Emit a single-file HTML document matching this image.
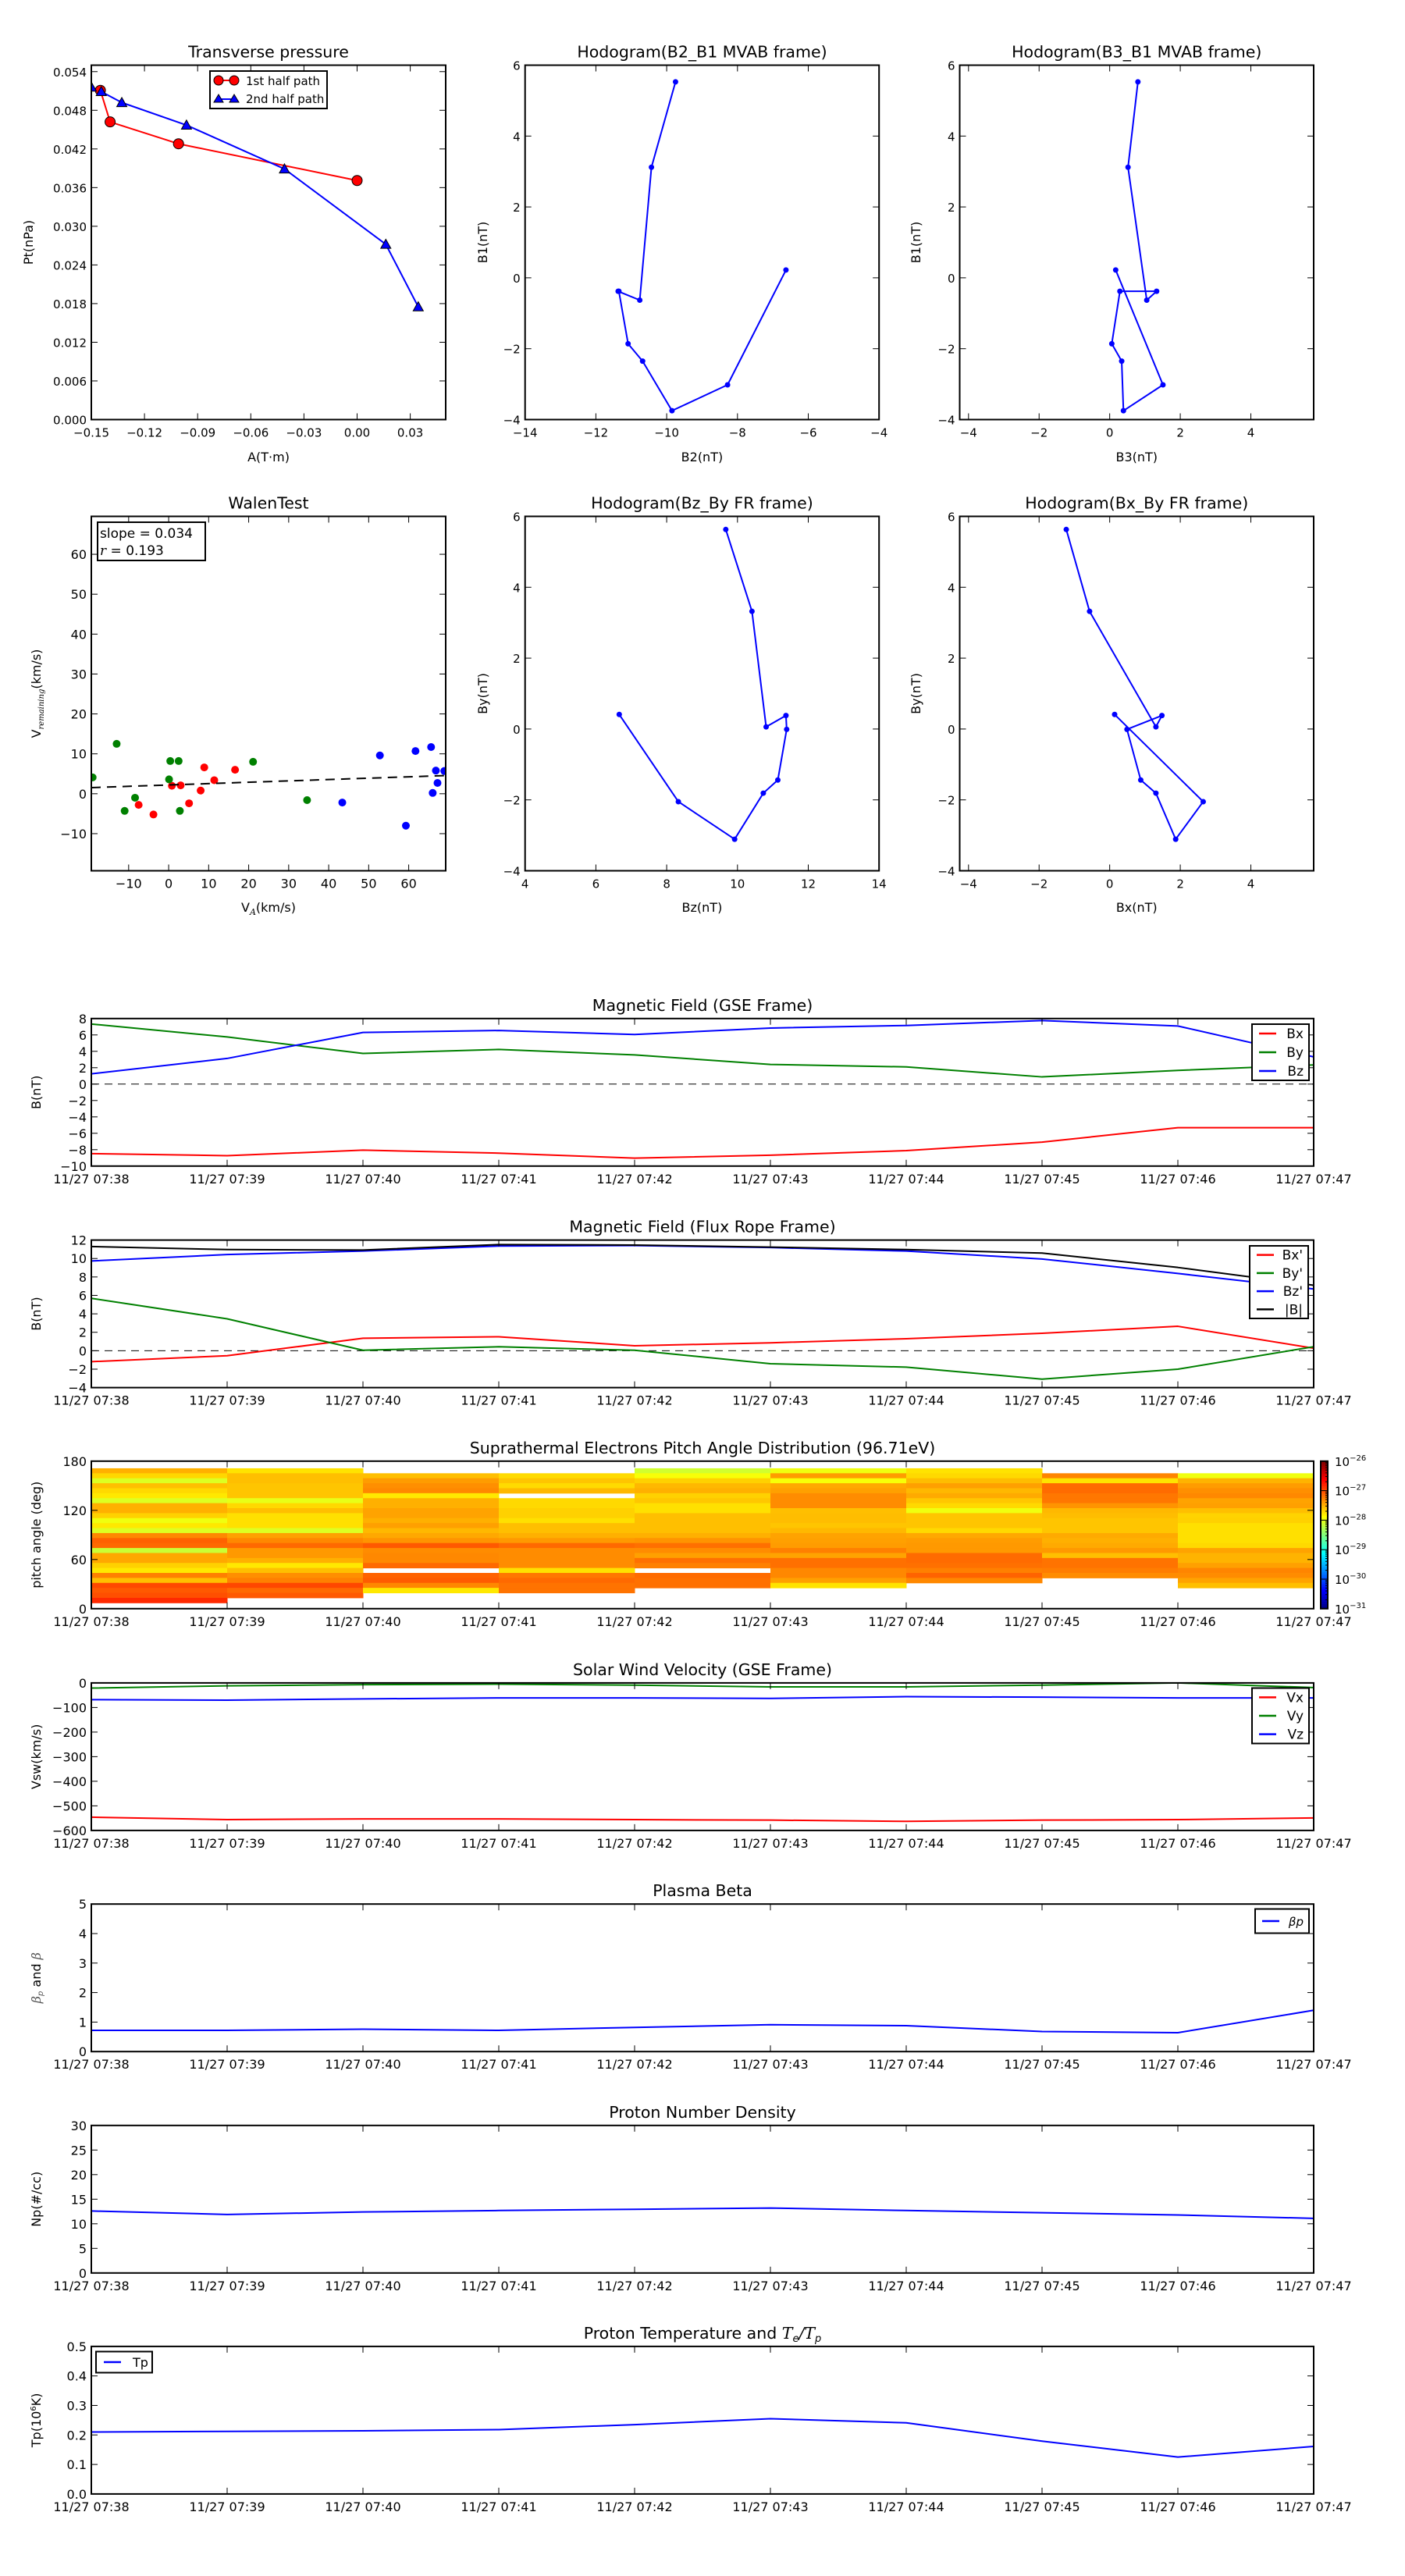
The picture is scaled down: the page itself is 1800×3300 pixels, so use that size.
<!DOCTYPE html>
<html><head><meta charset="utf-8"><title>Flux rope analysis</title>
<style>
html,body{margin:0;padding:0;background:#fff;}
svg{display:block;font-family:"DejaVu Sans","Liberation Sans",sans-serif;}
text{fill:#000;}
</style></head>
<body>
<svg id="chart" width="1800" height="3300" viewBox="0 0 1800 3300" xmlns="http://www.w3.org/2000/svg"></svg>
<script>
// ---------- data ----------
const ptA1 = [-0.1449, -0.1394, -0.1008, 0.0];
const ptPt1 = [0.0511, 0.0462, 0.0428, 0.0371];
const ptA2 = [-0.150, -0.1444, -0.1328, -0.0963, -0.0410, 0.0162, 0.0345];
const ptPt2 = [0.0516, 0.0509, 0.0492, 0.0457, 0.0389, 0.0272, 0.0175];

const mvB1 = [5.53, 3.12, -0.63, -0.38, -0.38, -1.86, -2.35, -3.75, -3.02, 0.22];
const mvB2 = [-9.75, -10.43, -10.76, -11.37, -11.35, -11.09, -10.68, -9.85, -8.28, -6.63];
const mvB3 = [0.80, 0.52, 1.05, 1.33, 0.29, 0.06, 0.34, 0.39, 1.51, 0.17];

const frBy = [5.63, 3.32, 0.06, 0.38, -0.01, -1.44, -1.81, -3.11, -2.05, 0.41];
const frBz = [9.67, 10.41, 10.81, 11.37, 11.39, 11.14, 10.73, 9.92, 8.33, 6.66];
const frBx = [-1.23, -0.57, 1.31, 1.48, 0.49, 0.88, 1.31, 1.87, 2.65, 0.14];

const walenRedX = [8.9, 16.6, 11.4, 0.8, 3.0, 8.0, 5.1, -7.5, -3.8];
const walenRedY = [6.6, 6.0, 3.4, 2.0, 2.1, 0.8, -2.4, -2.8, -5.2];
const walenGreenX = [-13.0, 0.4, 2.5, 21.1, -19.0, 0.1, -8.4, -11.0, 2.8, 34.6];
const walenGreenY = [12.5, 8.2, 8.2, 8.0, 4.1, 3.6, -1.0, -4.3, -4.3, -1.6];
const walenBlueX = [52.8, 61.7, 65.6, 66.8, 68.9, 67.2, 66.0, 43.4, 59.3];
const walenBlueY = [9.6, 10.7, 11.7, 5.8, 5.7, 2.7, 0.2, -2.2, -8.0];
const walenSlope = 0.034;
const walenIntercept = 2.2;

const timeLabels = ['11/27 07:38','11/27 07:39','11/27 07:40','11/27 07:41','11/27 07:42','11/27 07:43','11/27 07:44','11/27 07:45','11/27 07:46','11/27 07:47'];

const gseBx = [-8.48, -8.73, -8.06, -8.42, -9.03, -8.67, -8.12, -7.08, -5.32, -5.32];
const gseBy = [7.33, 5.75, 3.74, 4.23, 3.56, 2.40, 2.10, 0.88, 1.67, 2.34];
const gseBz = [1.25, 3.13, 6.30, 6.54, 6.05, 6.84, 7.15, 7.76, 7.09, 3.32];

const ropeBx = [-1.19, -0.54, 1.35, 1.51, 0.54, 0.86, 1.30, 1.89, 2.65, 0.27];
const ropeBy = [5.68, 3.46, 0.05, 0.43, 0.05, -1.41, -1.78, -3.08, -2.00, 0.43];
const ropeBz = [9.73, 10.43, 10.81, 11.35, 11.41, 11.19, 10.81, 9.95, 8.38, 6.7];
const ropeBt = [11.30, 10.97, 10.92, 11.51, 11.46, 11.24, 10.97, 10.59, 9.03, 7.1];

// log10 flux per time column, rows from high pitch angle (top) to low
const padCol1 = [-27.49,-27.68,-28.04,-27.56,-27.69,-27.76,-28.04,-27.49,-27.49,-27.65,-27.95,-27.76,-28.04,-27.29,-27.1,-27.14,-28.13,-27.45,-27.45,-27.65,-27.76,-27.25,-27.56,-26.98,-27.06,-27.01,-26.83];
const padCol2 = [-27.74,-27.56,-27.56,-27.59,-27.59,-27.59,-27.99,-27.69,-27.56,-27.725,-27.725,-27.725,-28.04,-27.41,-27.29,-27.14,-27.375,-27.375,-27.49,-27.76,-27.56,-27.325,-27.25,-26.975,-27.14,-27.06,null];
const padCol3 = [null,-27.56,-27.39,-27.325,-27.29,-27.76,-27.49,-27.49,-27.425,-27.425,-27.49,-27.41,-27.525,-27.45,-27.35,-27.06,-27.31,-27.29,-27.29,-27.14,null,-27.11,-27.075,-27.29,-27.76,null,null];
const padCol4 = [null,-27.7,-27.59,-27.7,-27.525,null,-27.69,-27.69,-27.65,-27.65,-27.725,-27.56,-27.56,-27.49,-27.375,-27.14,-27.31,-27.31,-27.31,-27.31,-27.725,-27.21,-27.14,-27.19,-27.19,null,null];
const padCol5 = [-28.1,-27.91,-27.65,-27.525,-27.49,-27.65,-27.6,-27.725,-27.725,-27.56,-27.56,-27.56,-27.56,-27.49,-27.35,-27.175,-27.31,-27.41,-27.175,-27.25,null,-27.15,-27.175,-27.175,null,null,null];
const padCol6 = [-27.95,-27.39,-27.91,-27.45,-27.41,-27.31,-27.31,-27.31,-27.56,-27.55,-27.55,-27.59,-27.525,-27.425,-27.41,-27.39,-27.25,-27.425,-27.175,-27.175,-27.29,-27.29,-27.41,-27.74,null,null,null];
const padCol7 = [-27.74,-27.69,-27.55,-27.41,-27.525,-27.46,-27.6,-27.69,-27.95,-27.59,-27.59,-27.59,-27.69,-27.45,-27.39,-27.375,-27.375,-27.15,-27.15,-27.175,-27.25,-27.11,-27.29,null,null,null,null];
const padCol8 = [null,-27.275,-27.74,-27.15,-27.15,-27.21,-27.21,-27.35,-27.525,-27.55,-27.59,-27.59,-27.59,-27.46,-27.49,-27.46,-27.375,-27.56,-27.19,-27.19,-27.24,-27.31,null,null,null,null,null];
const padCol9 = [null,-27.95,-27.5,-27.39,-27.325,-27.29,-27.425,-27.41,-27.56,-27.66,-27.65,-27.725,-27.725,-27.725,-27.725,-27.69,-27.425,-27.5,-27.5,-27.41,-27.275,-27.31,-27.425,-27.56,null,null,null];
const padColumns = [padCol1,padCol2,padCol3,padCol4,padCol5,padCol6,padCol7,padCol8,padCol9];
const padBinTop = 171.3;     // deg
const padBinWidth = 6.08;    // deg
const padLogMin = -31, padLogMax = -26;

const velVx = [-546, -556, -553, -553, -556, -558, -563, -558, -556, -549];
const velVy = [-21, -12, -7, -5, -9, -16, -16, -9, 0, -19];
const velVz = [-68, -70, -65, -61, -61, -63, -56, -58, -61, -61];

const betaP = [0.72, 0.72, 0.76, 0.72, 0.82, 0.91, 0.88, 0.68, 0.64, 1.40];
const densNp = [12.6, 11.9, 12.4, 12.7, 12.95, 13.2, 12.7, 12.25, 11.8, 11.1];
const tempTp = [0.210, 0.212, 0.214, 0.218, 0.235, 0.255, 0.241, 0.179, 0.125, 0.161];

// ---------- helpers ----------
const NS = 'http://www.w3.org/2000/svg';
const svg = document.getElementById('chart');
function el(tag, parent, a){ const e=document.createElementNS(NS,tag); for(const k in a) e.setAttribute(k,a[k]); parent.appendChild(e); return e; }
function txt(parent, x, y, s, size, anchor, extra){ const t=el('text',parent,Object.assign({x:x,y:y,'font-size':size,'text-anchor':anchor||'middle'},extra||{})); t.textContent=s; return t; }

function makeAxes(name, x0, y0, w, h, xr, yr){
  const g = el('g', svg, {});
  
  
  const ax = {g, x0, y0, w, h, xr, yr,
    sx: v => x0 + (v - xr[0]) / (xr[1] - xr[0]) * w,
    sy: v => y0 + h - (v - yr[0]) / (yr[1] - yr[0]) * h};
  const clipId = 'clip-' + name;
  const cp = el('clipPath', g, {id: clipId});
  el('rect', cp, {x:x0, y:y0, width:w, height:h});
  ax.plot = el('g', g, {'clip-path':'url(#'+clipId+')'});
  
  
  return ax;
}
function frame(ax){
  const r = el('rect', ax.g, {x:ax.x0, y:ax.y0, width:ax.w, height:ax.h, fill:'none', stroke:'#000', 'stroke-width':2});
  
  
}
function yTicks(ax, vals, labels, size){
  const g = el('g', ax.g, {});
  
  
  vals.forEach((v,i)=>{
    const y = ax.sy(v);
    el('line', g, {x1:ax.x0, x2:ax.x0+8, y1:y, y2:y, stroke:'#000', 'stroke-width':1});
    el('line', g, {x1:ax.x0+ax.w-8, x2:ax.x0+ax.w, y1:y, y2:y, stroke:'#000', 'stroke-width':1});
    const t = txt(g, ax.x0-6, y+6, labels[i], size||16, 'end');
    
    
  });
}
function xTicks(ax, vals, labels, size, dy){
  const g = el('g', ax.g, {});
  
  
  vals.forEach((v,i)=>{
    const x = ax.sx(v);
    el('line', g, {x1:x, x2:x, y1:ax.y0+ax.h, y2:ax.y0+ax.h-8, stroke:'#000', 'stroke-width':1});
    el('line', g, {x1:x, x2:x, y1:ax.y0, y2:ax.y0+8, stroke:'#000', 'stroke-width':1});
    const t = txt(g, x, ax.y0+ax.h+(dy||22), labels[i], size||16, 'middle');
    
    
  });
}
function title(ax, s){
  const t = txt(ax.g, ax.x0+ax.w/2, ax.y0-10, s, 20.5, 'middle');
  
  
  return t;
}
function yLabel(ax, s, x){
  const cx = x, cy = ax.y0 + ax.h/2;
  const t = txt(ax.g, cx, cy, s, 16, 'middle', {transform:'rotate(-90 '+cx+' '+cy+')'});
  
  
  return t;
}
function xLabel(ax, s, y){
  const t = txt(ax.g, ax.x0+ax.w/2, y, s, 16, 'middle');
  
  
  return t;
}
function polyline(ax, xs, ys, color, width, name, dash){
  const pts = xs.map((x,i)=>ax.sx(x).toFixed(2)+','+ax.sy(ys[i]).toFixed(2)).join(' ');
  const p = el('polyline', ax.plot, {points:pts, fill:'none', stroke:color, 'stroke-width':width||2, 'stroke-linejoin':'round'});
  if(dash) p.setAttribute('stroke-dasharray', dash);
  
  
  return p;
}
function dots(ax, xs, ys, color, r, name, stroke){
  const g = el('g', ax.plot, {});
  
  
  xs.forEach((x,i)=>{
    const c = el('circle', g, {cx:ax.sx(x), cy:ax.sy(ys[i]), r:r, fill:color, stroke:stroke||'none', 'stroke-width':1});
    
    
  });
}
function triangles(ax, xs, ys, color, s, name){
  const g = el('g', ax.plot, {});
  
  
  xs.forEach((x,i)=>{
    const cx = ax.sx(x), cy = ax.sy(ys[i]);
    const p = el('polygon', g, {points:`${cx},${cy-s} ${cx-s},${cy+s*0.8} ${cx+s},${cy+s*0.8}`, fill:color, stroke:'#000', 'stroke-width':1});
    
    
  });
}
function legend(ax, x, y, w, h, entries, size){
  const g = el('g', ax.g, {});
  
  
  el('rect', g, {x:x, y:y, width:w, height:h, fill:'#fff', stroke:'#000', 'stroke-width':2});
  const step = h / entries.length;
  entries.forEach((e,i)=>{
    const cy = y + step*(i+0.5);
    const eg = el('g', g, {});
    
    
    el('line', eg, {x1:x+9, x2:x+31, y1:cy, y2:cy, stroke:e.color, 'stroke-width':2.5});
    const t = txt(eg, x+w-7, cy+6, e.label, size||17, 'end');
    if(e.italic) t.setAttribute('font-style','italic');
  });
}
const tIdx = timeLabels.map((_,i)=>i);

// ---------- Transverse pressure ----------
{
  const ax = makeAxes('transverse-pressure-chart', 117, 83.5, 454, 454, [-0.15,0.05], [0,0.055]);
  polyline(ax, ptA1, ptPt1, '#ff0000', 2, 'first-half-path-line');
  polyline(ax, ptA2, ptPt2, '#0000ff', 2, 'second-half-path-line');
  dots(ax, ptA1, ptPt1, '#ff0000', 6.5, 'first-half-path', '#000');
  triangles(ax, ptA2, ptPt2, '#0000ff', 6.5, 'second-half-path');
  const yv=[0,0.006,0.012,0.018,0.024,0.030,0.036,0.042,0.048,0.054];
  yTicks(ax, yv, yv.map(v=>v.toFixed(3)), 15);
  const xv=[-0.15,-0.12,-0.09,-0.06,-0.03,0,0.03];
  xTicks(ax, xv, ['\u22120.15','\u22120.12','\u22120.09','\u22120.06','\u22120.03','0.00','0.03'], 15);
  frame(ax);
  title(ax, 'Transverse pressure');
  yLabel(ax, 'Pt(nPa)', 42);
  xLabel(ax, 'A(T\u00b7m)', 591);
  const g = el('g', ax.g, {});
  
  
  el('rect', g, {x:269, y:91, width:150, height:48, fill:'#fff', stroke:'#000', 'stroke-width':2});
  el('line', g, {x1:280, x2:300, y1:103, y2:103, stroke:'#ff0000', 'stroke-width':2});
  el('circle', g, {cx:280, cy:103, r:6, fill:'#ff0000', stroke:'#000'});
  el('circle', g, {cx:300, cy:103, r:6, fill:'#ff0000', stroke:'#000'});
  txt(g, 315, 109, '1st half path', 15, 'start');
  el('line', g, {x1:280, x2:300, y1:127, y2:127, stroke:'#0000ff', 'stroke-width':2});
  el('polygon', g, {points:'280,121 274,131 286,131', fill:'#0000ff', stroke:'#000'});
  el('polygon', g, {points:'300,121 294,131 306,131', fill:'#0000ff', stroke:'#000'});
  txt(g, 315, 132, '2nd half path', 15, 'start');
}

function hodo(name, x0, y0, xr, yr, xs, ys, xv, ttl, xl, yl, ylx, xly){
  const ax = makeAxes(name, x0, y0, 453.5, 454, xr, yr);
  polyline(ax, xs, ys, '#0000ff', 2, name+'-path');
  dots(ax, xs, ys, '#0000ff', 3.5, name+'-samples');
  const yvv=[-4,-2,0,2,4,6];
  yTicks(ax, yvv, yvv.map(v=>v<0?'\u2212'+(-v):String(v)), 15);
  xTicks(ax, xv, xv.map(v=>v<0?'\u2212'+(-v):String(v)), 15);
  frame(ax);
  title(ax, ttl);
  yLabel(ax, yl, ylx);
  xLabel(ax, xl, xly);
}
hodo('hodogram-b2-b1', 672.7, 83.5, [-14,-4], [-4,6], mvB2, mvB1, [-14,-12,-10,-8,-6,-4], 'Hodogram(B2_B1 MVAB frame)', 'B2(nT)', 'B1(nT)', 624, 591);
hodo('hodogram-b3-b1', 1229.5, 83.5, [-4.25,5.78], [-4,6], mvB3, mvB1, [-4,-2,0,2,4], 'Hodogram(B3_B1 MVAB frame)', 'B3(nT)', 'B1(nT)', 1179, 591);
hodo('hodogram-bz-by', 672.7, 661.5, [4,14], [-4,6], frBz, frBy, [4,6,8,10,12,14], 'Hodogram(Bz_By FR frame)', 'Bz(nT)', 'By(nT)', 624, 1168);
hodo('hodogram-bx-by', 1229.5, 661.5, [-4.25,5.78], [-4,6], frBx, frBy, [-4,-2,0,2,4], 'Hodogram(Bx_By FR frame)', 'Bx(nT)', 'By(nT)', 1179, 1168);

// ---------- Walen test ----------
{
  const ax = makeAxes('walen-test-chart', 117, 661.5, 454, 454, [-19.33,69.25], [-19.3,69.5]);
  dots(ax, walenRedX, walenRedY, '#ff0000', 5, 'walen-red');
  dots(ax, walenGreenX, walenGreenY, '#008000', 5, 'walen-green');
  dots(ax, walenBlueX, walenBlueY, '#0000ff', 5, 'walen-blue');
  const fx=[ax.xr[0], ax.xr[1]];
  polyline(ax, fx, fx.map(x=>walenIntercept+walenSlope*x), '#000', 2, 'walen-fit-line', '12,8');
  const yv=[-10,0,10,20,30,40,50,60];
  yTicks(ax, yv, yv.map(v=>v<0?'\u2212'+(-v):String(v)), 16);
  const xv=[-10,0,10,20,30,40,50,60];
  xTicks(ax, xv, xv.map(v=>v<0?'\u2212'+(-v):String(v)), 16);
  frame(ax);
  title(ax, 'WalenTest');
  const g = el('g', ax.g, {});
  
  
  el('rect', g, {x:125, y:669, width:138, height:49, fill:'#fff', stroke:'#000', 'stroke-width':2});
  txt(g, 128, 689, 'slope = 0.034', 17, 'start');
  const t2 = txt(g, 128, 711, '', 17, 'start');
  const ti = el('tspan', t2, {'font-style':'italic','font-family':'"DejaVu Serif","Liberation Serif",serif'}); ti.textContent='r';
  const tr = el('tspan', t2, {}); tr.textContent=' = 0.193';
  // y label
  const cx=52, cy=661.5+227;
  const yl = el('text', ax.g, {x:cx, y:cy, 'font-size':16, 'text-anchor':'middle', transform:'rotate(-90 '+cx+' '+cy+')'});
  
  
  const a1=el('tspan',yl,{}); a1.textContent='V';
  const a2=el('tspan',yl,{'font-size':10,'font-style':'italic','font-family':'"DejaVu Serif",serif',dy:4}); a2.textContent='remaining';
  const a3=el('tspan',yl,{dy:-4}); a3.textContent='(km/s)';
  const xl = el('text', ax.g, {x:344, y:1168, 'font-size':16, 'text-anchor':'middle'});
  
  
  const b1=el('tspan',xl,{}); b1.textContent='V';
  const b2=el('tspan',xl,{'font-size':11,'font-style':'italic','font-family':'"DejaVu Serif",serif',dy:4}); b2.textContent='A';
  const b3=el('tspan',xl,{dy:-4}); b3.textContent='(km/s)';
}

// ---------- time series ----------
const TX0 = 117, TW = 1566, TH = 189;
const tops = [1304.8, 1588.6, 1871.8, 2155.9, 2439.2, 2722.8, 3005.9];
function timeAxes(name, top, yr, w){
  const ax = makeAxes(name, TX0, top, w||TW, TH, [0,9], yr);
  return ax;
}
function finishTime(ax, ttl, yl, yv, ylabels){
  yTicks(ax, yv, ylabels, 16);
  xTicks(ax, tIdx, timeLabels, 16);
  frame(ax);
  title(ax, ttl);
  yLabel(ax, yl, 52);
}
function neg(v){ return v<0?'\u2212'+(-v):String(v); }

{
  const ax = timeAxes('gse-magnetic-field-chart', tops[0], [-10,8]);
  polyline(ax, [0,9], [0,0], '#000', 1, 'zero-line', '10,7');
  polyline(ax, tIdx, gseBx, '#ff0000', 2, 'bx-line');
  polyline(ax, tIdx, gseBy, '#008000', 2, 'by-line');
  polyline(ax, tIdx, gseBz, '#0000ff', 2, 'bz-line');
  const yv=[-10,-8,-6,-4,-2,0,2,4,6,8];
  finishTime(ax, 'Magnetic Field (GSE Frame)', 'B(nT)', yv, yv.map(neg));
  legend(ax, 1604, 1312, 73, 72, [{label:'Bx',color:'#ff0000'},{label:'By',color:'#008000'},{label:'Bz',color:'#0000ff'}], 17);
}
{
  const ax = timeAxes('flux-rope-magnetic-field-chart', tops[1], [-4,12]);
  polyline(ax, [0,9], [0,0], '#000', 1, 'zero-line', '10,7');
  polyline(ax, tIdx, ropeBx, '#ff0000', 2, 'bx-prime-line');
  polyline(ax, tIdx, ropeBy, '#008000', 2, 'by-prime-line');
  polyline(ax, tIdx, ropeBz, '#0000ff', 2, 'bz-prime-line');
  polyline(ax, tIdx, ropeBt, '#000000', 2, 'btotal-line');
  const yv=[-4,-2,0,2,4,6,8,10,12];
  finishTime(ax, 'Magnetic Field (Flux Rope Frame)', 'B(nT)', yv, yv.map(neg));
  legend(ax, 1601, 1596, 75, 93, [{label:"Bx'",color:'#ff0000'},{label:"By'",color:'#008000'},{label:"Bz'",color:'#0000ff'},{label:'|B|',color:'#000'}], 17);
}
function jet(t){
  t=Math.max(0,Math.min(1,t));
  const c=v=>Math.round(255*Math.max(0,Math.min(1,v)));
  return `rgb(${c(1.5-Math.abs(4*t-3))},${c(1.5-Math.abs(4*t-2))},${c(1.5-Math.abs(4*t-1))})`;
}
{
  const ax = timeAxes('pitch-angle-distribution-chart', tops[2], [0,180]);
  const cells = el('g', ax.plot, {});
  
  
  padColumns.forEach((col,ci)=>{
    col.forEach((v,ri)=>{
      if(v===null) return;
      const paTop = padBinTop - ri*padBinWidth, paBot = paTop - padBinWidth;
      const x1=ax.sx(ci), x2=ax.sx(ci+1), y1=ax.sy(paTop), y2=ax.sy(paBot);
      const r = el('rect', cells, {x:x1, y:y1, width:x2-x1+0.5, height:y2-y1+0.5, fill:jet((v-padLogMin)/(padLogMax-padLogMin))});
      
      
    });
  });
  finishTime(ax, 'Suprathermal Electrons Pitch Angle Distribution (96.71eV)', 'pitch angle (deg)', [0,60,120,180], ['0','60','120','180']);
  // colorbar
  const cb = el('g', svg, {});
  
  
  const cy0 = tops[2], ch = TH, cx0 = 1692, cw = 9;
  const n = 60;
  for(let i=0;i<n;i++){
    el('rect', cb, {x:cx0, y:cy0+ch*(1-(i+1)/n), width:cw, height:ch/n+0.6, fill:jet((i+0.5)/n)});
  }
  el('rect', cb, {x:cx0, y:cy0, width:cw, height:ch, fill:'none', stroke:'#000', 'stroke-width':2});
  for(let e=padLogMin;e<=padLogMax;e++){
    const y = cy0 + ch*(1-(e-padLogMin)/(padLogMax-padLogMin));
    for(let k=2;k<10;k++){
      const ym = y - ch/(padLogMax-padLogMin)*Math.log10(k);
      if(e<padLogMax) el('line', cb, {x1:cx0+cw-3, x2:cx0+cw, y1:ym, y2:ym, stroke:'#000', 'stroke-width':1});
    }
    el('line', cb, {x1:cx0, x2:cx0+cw, y1:y, y2:y, stroke:'#000', 'stroke-width':1});
    const t = el('text', cb, {x:1710, y:y+6, 'font-size':15, 'text-anchor':'start'});
    
    
    const t1=el('tspan',t,{}); t1.textContent='10';
    const t2=el('tspan',t,{dy:-7,'font-size':10}); t2.textContent='\u2212'+(-e);
  }
}
{
  const ax = timeAxes('solar-wind-velocity-chart', tops[3], [-600,0]);
  polyline(ax, tIdx, velVx, '#ff0000', 2, 'vx-line');
  polyline(ax, tIdx, velVy, '#008000', 2, 'vy-line');
  polyline(ax, tIdx, velVz, '#0000ff', 2, 'vz-line');
  const yv=[-600,-500,-400,-300,-200,-100,0];
  finishTime(ax, 'Solar Wind Velocity (GSE Frame)', 'Vsw(km/s)', yv, yv.map(neg));
  legend(ax, 1604, 2162.5, 73, 71, [{label:'Vx',color:'#ff0000'},{label:'Vy',color:'#008000'},{label:'Vz',color:'#0000ff'}], 17);
}
{
  const ax = timeAxes('plasma-beta-chart', tops[4], [0,5]);
  polyline(ax, tIdx, betaP, '#0000ff', 2, 'beta-p-line');
  const yv=[0,1,2,3,4,5];
  finishTime(ax, 'Plasma Beta', '', yv, yv.map(String));
  const cx=52, cy=tops[4]+TH/2;
  const yl = el('text', ax.g, {x:cx, y:cy, 'font-size':16, 'text-anchor':'middle', transform:'rotate(-90 '+cx+' '+cy+')'});
  
  
  const s1=el('tspan',yl,{'font-style':'italic','font-family':'"DejaVu Serif",serif','fill':'#555'}); s1.textContent='\u03b2';
  const s2=el('tspan',yl,{'font-size':10,'font-style':'italic',dy:3,'fill':'#555'}); s2.textContent='p';
  const s3=el('tspan',yl,{dy:-3}); s3.textContent=' and ';
  const s4=el('tspan',yl,{'font-style':'italic','font-family':'"DejaVu Serif",serif','fill':'#555'}); s4.textContent='\u03b2';
  legend(ax, 1608, 2445.5, 69, 31, [{label:'\u03b2p',color:'#0000ff',italic:true}], 15);
}
{
  const ax = timeAxes('proton-density-chart', tops[5], [0,30]);
  polyline(ax, tIdx, densNp, '#0000ff', 2, 'np-line');
  const yv=[0,5,10,15,20,25,30];
  finishTime(ax, 'Proton Number Density', 'Np(#/cc)', yv, yv.map(String));
}
{
  const ax = timeAxes('proton-temperature-chart', tops[6], [0,0.5]);
  polyline(ax, tIdx, tempTp, '#0000ff', 2, 'tp-line');
  const yv=[0,0.1,0.2,0.3,0.4,0.5];
  yTicks(ax, yv, yv.map(v=>v.toFixed(1)), 16);
  xTicks(ax, tIdx, timeLabels, 16);
  frame(ax);
  const t = el('text', ax.g, {x:ax.x0+ax.w/2, y:ax.y0-10, 'font-size':20.5, 'text-anchor':'middle'});
  
  
  const p1=el('tspan',t,{}); p1.textContent='Proton Temperature and ';
  const p2=el('tspan',t,{'font-style':'italic','font-family':'"DejaVu Serif",serif'}); p2.textContent='T';
  const p3=el('tspan',t,{'font-size':13,'font-style':'italic',dy:4}); p3.textContent='e';
  const p4=el('tspan',t,{dy:-4,'font-style':'italic','font-family':'"DejaVu Serif",serif'}); p4.textContent='/T';
  const p5=el('tspan',t,{'font-size':13,'font-style':'italic',dy:4}); p5.textContent='p';
  const cx=52, cy=tops[6]+TH/2;
  const yl = el('text', ax.g, {x:cx, y:cy, 'font-size':16, 'text-anchor':'middle', transform:'rotate(-90 '+cx+' '+cy+')'});
  
  
  const q1=el('tspan',yl,{}); q1.textContent='Tp(10';
  const q2=el('tspan',yl,{'font-size':10,dy:-6}); q2.textContent='6';
  const q3=el('tspan',yl,{dy:6}); q3.textContent='K)';
  const g = el('g', ax.g, {});
  
  
  el('rect', g, {x:123, y:3012.5, width:72, height:27, fill:'#fff', stroke:'#000', 'stroke-width':2});
  el('line', g, {x1:133, x2:155, y1:3026, y2:3026, stroke:'#0000ff', 'stroke-width':2.5});
  txt(g, 170, 3032, 'Tp', 16, 'start');
}
</script>
</body></html>
